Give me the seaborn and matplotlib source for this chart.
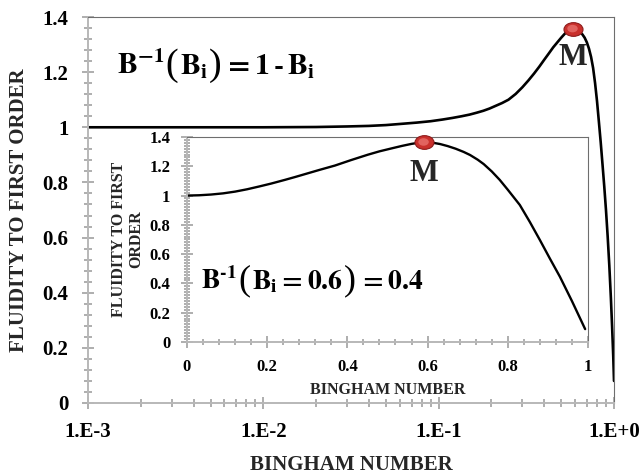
import numpy as np
import pandas as pd
import matplotlib
matplotlib.use("Agg")
import matplotlib.pyplot as plt
import seaborn as sns
from matplotlib.path import Path
from matplotlib.ticker import MultipleLocator, LogLocator, FixedLocator, FixedFormatter, NullFormatter
from matplotlib.offsetbox import TextArea, HPacker, AnchoredOffsetbox

# ---------------- data ----------------
main_B = [0.001, 0.003, 0.01, 0.02, 0.03, 0.04, 0.05, 0.06, 0.075, 0.09, 0.105,
          0.12, 0.135, 0.15, 0.165, 0.18, 0.195, 0.21, 0.23, 0.25, 0.275, 0.30,
          0.325, 0.35, 0.375, 0.40, 0.425, 0.45, 0.475, 0.50, 0.52, 0.54, 0.56,
          0.58, 0.60, 0.62, 0.64, 0.66, 0.68, 0.70, 0.72, 0.74, 0.76, 0.78, 0.80,
          0.82, 0.84, 0.86, 0.88, 0.90, 0.92, 0.94, 0.96, 0.975, 0.99, 1.0]
main_F = [1.0, 1.0, 1.0, 1.001, 1.003, 1.005, 1.008, 1.012, 1.017, 1.022, 1.028,
          1.034, 1.040, 1.046, 1.053, 1.060, 1.068, 1.077, 1.088, 1.100, 1.121, 1.145,
          1.170, 1.195, 1.220, 1.245, 1.268, 1.290, 1.308, 1.325, 1.337, 1.348, 1.355,
          1.358, 1.357, 1.353, 1.346, 1.337, 1.325, 1.308, 1.285, 1.255, 1.215, 1.160, 1.095,
          1.020, 0.945, 0.865, 0.785, 0.700, 0.605, 0.500, 0.380, 0.280, 0.170, 0.080]

inset_B = [0.0, 0.03, 0.06, 0.09, 0.12, 0.15, 0.18, 0.21, 0.244, 0.27, 0.30, 0.33,
           0.369, 0.41, 0.451, 0.48, 0.51, 0.536, 0.56, 0.59, 0.61, 0.631, 0.65,
           0.67, 0.69, 0.706, 0.725, 0.74, 0.76, 0.78, 0.80, 0.83, 0.855, 0.88,
           0.905, 0.93, 0.96, 0.993]
inset_F = [1.0, 1.002, 1.007, 1.015, 1.027, 1.043, 1.062, 1.082, 1.107, 1.127, 1.151, 1.175,
           1.205, 1.243, 1.279, 1.302, 1.322, 1.339, 1.353, 1.366, 1.362, 1.352, 1.338,
           1.320, 1.298, 1.277, 1.245, 1.215, 1.165, 1.107, 1.040, 0.936, 0.820, 0.697,
           0.570, 0.446, 0.280, 0.088]

main_xticks = [1e-3, 1e-2, 1e-1, 1e0]
main_xticklabels = ["1.E-3", "1.E-2", "1.E-1", "1.E+0"]
y_ticks = [0, 0.2, 0.4, 0.6, 0.8, 1.0, 1.2, 1.4]
y_ticklabels = ["0", "0.2", "0.4", "0.6", "0.8", "1", "1.2", "1.4"]
inset_xticks = [0, 0.2, 0.4, 0.6, 0.8, 1.0]
inset_xticklabels = ["0", "0.2", "0.4", "0.6", "0.8", "1"]

# equation pieces: (text, is_big_paren)
main_eq = [(r"$\mathbf{B^{-1}}$", False), ("(", True), (r"$\mathbf{B_i}$", False),
           (")", True), (r"$\mathbf{=1\,\text{-}\,B_i}$", False)]
inset_eq = [(r"$\mathbf{B^{\text{-}1}}$", False), ("(", True), (r"$\mathbf{B_i=0.6}$", False),
            (")", True), (r"$\mathbf{=0.4}$", False)]
x_label = "BINGHAM NUMBER"
y_label_main = "FLUIDITY TO FIRST ORDER"
y_label_inset = "FLUIDITY TO FIRST\nORDER"

# ---------------- style ----------------
SPINE_GRAY = "#b8b8b8"
TICK_GRAY = "#a8a8a8"
FRAME_GRAY = "#6e6e6e"

sns.set_theme(style="ticks")
plt.rcParams.update({
    "font.family": ["Liberation Serif", "DejaVu Serif"],
    "font.weight": "bold",
    "mathtext.fontset": "stix",
    "axes.labelweight": "bold",
    "xtick.bottom": True, "xtick.top": False,
    "ytick.left": True, "ytick.right": False,
    "xtick.minor.visible": True, "ytick.minor.visible": True,
    "xtick.direction": "inout", "ytick.direction": "inout",
    "xtick.color": TICK_GRAY, "ytick.color": TICK_GRAY,
    "xtick.labelcolor": "black", "ytick.labelcolor": "black",
    "xtick.major.width": 1.3, "ytick.major.width": 1.3,
    "xtick.minor.width": 1.3, "ytick.minor.width": 1.3,
})

circ = Path.unit_circle()
ellipse = Path(circ.vertices * np.array([1.0, 0.72]), circ.codes)

fig = plt.figure(figsize=(6.43, 4.75), dpi=100)
fig.patch.set_facecolor("white")

def style_axes(ax, major_len, minor_len, pad):
    for s in ["left", "bottom"]:
        ax.spines[s].set_color(SPINE_GRAY)
        ax.spines[s].set_linewidth(1.4)
    for s in ["top", "right"]:
        ax.spines[s].set_visible(True)
        ax.spines[s].set_color(FRAME_GRAY)
        ax.spines[s].set_linewidth(0.8)
    ax.tick_params(axis="both", which="major", direction="inout", length=major_len,
                   width=1.3, color=TICK_GRAY, pad=pad,
                   bottom=True, left=True, top=False, right=False)
    ax.tick_params(axis="both", which="minor", direction="inout", length=minor_len,
                   width=1.3, color=TICK_GRAY,
                   bottom=True, left=True, top=False, right=False)
    ax.set_facecolor("white")
    ax.grid(False)

def add_peak(ax, B, F, dy, msize):
    i = int(np.argmax(F))
    sns.scatterplot(x=[B[i]], y=[F[i]], ax=ax, marker=ellipse, s=msize ** 2,
                    color="#c9302c", edgecolor="#8e1c1c", linewidth=0.8, zorder=5,
                    legend=False, clip_on=False)
    sns.scatterplot(x=[B[i]], y=[F[i]], ax=ax, marker=ellipse, s=(msize * 0.55) ** 2,
                    color="#e8706c", edgecolor="none", linewidth=0, zorder=6, alpha=0.8,
                    legend=False, clip_on=False)
    ax.annotate("M", xy=(B[i], F[i]), xytext=(0, -dy), textcoords="offset points",
                ha="center", va="center", fontsize=22, fontweight="bold", zorder=7)

def add_equation(ax, pieces, x, y, size, paren_size):
    boxes = []
    for txt, big in pieces:
        if big:
            boxes.append(TextArea(txt, textprops=dict(fontsize=paren_size, fontweight="normal",
                                                      family="Liberation Serif", color="black")))
        else:
            boxes.append(TextArea(txt, textprops=dict(fontsize=size, color="black")))
    pack = HPacker(children=boxes, align="baseline", pad=0, sep=1)
    anch = AnchoredOffsetbox(loc="center left", child=pack, pad=0, borderpad=0, frameon=False,
                             bbox_to_anchor=(x, y), bbox_transform=ax.transAxes)
    ax.add_artist(anch)

# ---------------- main axes ----------------
ax = fig.add_axes([0.1369, 0.1516, 0.818, 0.8126])
main_df = pd.DataFrame({"B": main_B, "F": main_F})
sns.lineplot(data=main_df, x="B", y="F", ax=ax, color="black", linewidth=1.9,
             sort=False, estimator=None)
ax.set_xscale("log")
ax.set_xlim(1e-3, 1.0)
ax.set_ylim(0, 1.4)
ax.xaxis.set_major_locator(FixedLocator(main_xticks))
ax.xaxis.set_major_formatter(FixedFormatter(main_xticklabels))
ax.xaxis.set_minor_locator(LogLocator(base=10, subs=np.arange(2, 10), numticks=20))
ax.xaxis.set_minor_formatter(NullFormatter())
ax.yaxis.set_major_locator(FixedLocator(y_ticks))
ax.yaxis.set_major_formatter(FixedFormatter(y_ticklabels))
ax.yaxis.set_minor_locator(MultipleLocator(0.04))
ax.yaxis.set_minor_formatter(NullFormatter())
style_axes(ax, 9, 6, 9.5)
for lab in ax.get_xticklabels() + ax.get_yticklabels():
    lab.set_fontsize(15)
    lab.set_fontweight("bold")
ax.set_xlabel(x_label, fontsize=15, fontweight="bold", labelpad=9)
ax.set_ylabel(y_label_main, fontsize=15, fontweight="bold", labelpad=10)
add_equation(ax, main_eq, 0.055, 0.875, 21.5, 27.5)
add_peak(ax, main_B, main_F, 20.5, 13.7)

# ---------------- inset axes ----------------
axi = fig.add_axes([0.2908, 0.28, 0.6236, 0.4316])
inset_df = pd.DataFrame({"B": inset_B, "F": inset_F})
sns.lineplot(data=inset_df, x="B", y="F", ax=axi, color="black", linewidth=1.7,
             sort=False, estimator=None)
axi.set_xlim(0, 1.0)
axi.set_ylim(0, 1.4)
axi.xaxis.set_major_locator(FixedLocator(inset_xticks))
axi.xaxis.set_major_formatter(FixedFormatter(inset_xticklabels))
axi.xaxis.set_minor_locator(MultipleLocator(0.04))
axi.xaxis.set_minor_formatter(NullFormatter())
axi.yaxis.set_major_locator(FixedLocator(y_ticks))
axi.yaxis.set_major_formatter(FixedFormatter(y_ticklabels))
axi.yaxis.set_minor_locator(MultipleLocator(0.02))
axi.yaxis.set_minor_formatter(NullFormatter())
style_axes(axi, 8, 5, 8)
for lab in axi.get_xticklabels() + axi.get_yticklabels():
    lab.set_fontsize(12)
    lab.set_fontweight("bold")
axi.set_xlabel(x_label, fontsize=11.5, fontweight="bold", labelpad=5)
axi.set_ylabel(y_label_inset, fontsize=11.5, fontweight="bold", labelpad=4,
               linespacing=1.1)
add_equation(axi, inset_eq, 0.035, 0.30, 20, 26)
add_peak(axi, inset_B, inset_F, 23, 13.7)

fig.savefig("out.png", dpi=100, facecolor="white")
